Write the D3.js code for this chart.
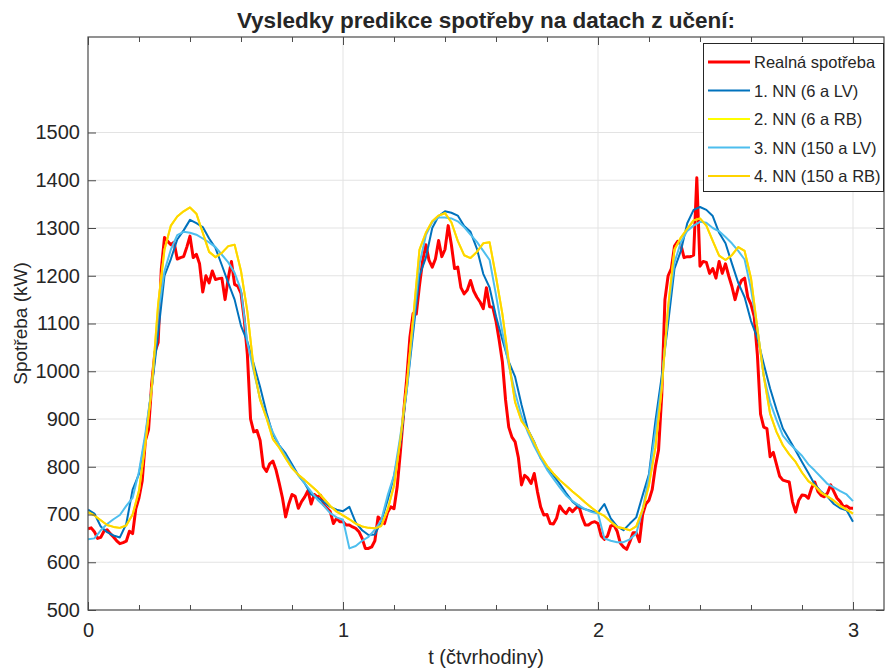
<!DOCTYPE html>
<html>
<head>
<meta charset="utf-8">
<script src="https://cdn.jsdelivr.net/npm/d3@7"></script>
<style>
  body { margin: 0; background: #fff; }
  svg { display: block; }
  text { font-family: "Liberation Sans", Arial, Helvetica, sans-serif; fill: #262626; }
</style>
</head>
<body>
<svg id="chart" width="885" height="671"></svg>
<script>
// Sampling steps along the time axis (in units of the x axis)
const stepReal = 0.0125;
const stepNN = 0.025;

// Measured consumption (kW)
const realna = [
  670,672,664,650,652,665,668,660,653,645,639,641,644,665,660,712,735,770,855,878,
  975,1040,1060,1214,1280,1272,1265,1270,1235,1238,1240,1260,1283,1238,1245,1225,1166,1200,1185,1210,
  1192,1194,1195,1150,1195,1230,1182,1178,1163,1110,1035,900,873,876,855,800,790,806,812,793,
  765,735,695,722,742,738,713,727,737,750,722,742,737,740,720,713,706,681,692,685,
  685,
  678,678,674,671,664,650,629,629,632,645,695,688,681,705,716,712,758,831,911,985,
  1072,1121,1120,1180,1232,1265,1232,1218,1235,1274,1240,1255,1305,1265,1215,1218,1175,1162,1170,1190,
  1168,1155,1145,1131,1175,1135,1134,1105,1065,1020,940,883,862,852,820,762,782,776,765,786,
  748,716,699,700,681,680,692,718,708,702,713,706,713,718,695,678,678,683,685,681,
  655,648,655,676,678,665,640,632,627,643,662,662,643,700,722,730,752,800,835,950,
  1150,1200,1215,1262,1272,1265,1238,1240,1240,1243,1405,1220,1230,1228,1205,1215,1195,1230,1205,1225,
  1200,1178,1150,1175,1190,1195,1155,1140,1115,1035,910,883,880,821,830,805,780,772,770,768,
  727,705,730,741,740,734,755,768,748,740,737,745,762,748,734,727,716,718,713,713
];

// 1. NN (6 a LV)
const nn1 = [
  710,702,675,663,656,652,680,752,785,862,965,1078,1200,1235,1276,1295,1317,1310,1302,1278,
  1258,1222,1185,1150,1095,1062,1015,967,913,868,845,828,805,782,765,742,735,726,716,710,
  707,
  716,683,667,657,658,685,730,780,850,960,1080,1200,1238,1300,1325,1335,1332,1326,1304,1292,
  1257,1204,1175,1115,1066,1020,988,930,878,852,818,800,782,764,745,727,716,711,707,704,
  722,692,675,667,681,694,740,785,895,990,1100,1215,1252,1310,1338,1344,1338,1325,1290,1268,
  1226,1185,1155,1105,1070,1015,964,920,880,857,834,810,787,763,748,737,722,713,709,685
];

// 2. NN (6 a RB)
const nn2 = [
  705,698,688,678,674,672,677,700,750,850,965,1140,1255,1305,1324,1335,1343,1330,1290,1250,
  1239,1248,1262,1265,1210,1125,1005,940,902,858,840,818,797,783,772,760,748,733,718,706,
  698,
  690,681,675,672,671,676,710,760,858,970,1110,1255,1290,1314,1326,1331,1312,1273,1243,1237,
  1250,1268,1270,1198,1120,1020,935,896,877,850,823,802,786,772,760,748,737,725,714,704,
  697,685,674,671,667,675,710,762,840,965,1135,1255,1280,1298,1316,1320,1305,1273,1242,1233,
  1243,1260,1252,1195,1090,990,911,873,845,826,810,788,770,760,746,738,729,718,710,702
];

// 3. NN (150 a LV)
const nn3 = [
  648,650,667,680,690,699,718,735,790,870,965,1120,1210,1255,1285,1292,1290,1286,1278,1270,
  1260,1244,1228,1206,1170,1060,1000,942,905,872,845,822,800,782,765,748,731,718,703,694,
  689,
  629,634,645,653,668,688,740,782,865,960,1095,1225,1285,1312,1322,1322,1320,1314,1302,1286,
  1271,1252,1233,1160,1082,1013,955,907,872,843,818,794,775,757,740,728,719,711,705,702,
  650,645,642,642,648,660,710,780,875,975,1127,1228,1270,1294,1305,1313,1311,1300,1293,1281,
  1268,1252,1234,1172,1090,990,935,898,865,849,836,823,805,792,778,764,757,749,742,728
];

// 4. NN (150 a RB)
const nn4 = [
  705,698,688,678,674,672,677,700,750,850,965,1140,1255,1305,1324,1335,1343,1330,1290,1250,
  1239,1248,1262,1265,1210,1125,1005,940,902,858,840,818,797,783,772,760,748,733,718,706,
  698,
  690,681,675,672,671,676,710,760,858,970,1110,1255,1290,1314,1326,1331,1312,1273,1243,1237,
  1250,1268,1270,1198,1120,1020,935,896,877,850,823,802,786,772,760,748,737,725,714,704,
  697,685,674,671,667,675,710,762,840,965,1135,1255,1280,1298,1316,1320,1305,1273,1242,1233,
  1243,1260,1252,1195,1090,990,911,873,845,826,810,788,770,760,746,738,729,718,710,702
];

const seriesNames = ["Realná spotřeba", "1. NN (6 a LV)", "2. NN (6 a RB)", "3. NN (150 a LV)", "4. NN (150 a RB)"];
const seriesColors = ["#ff0000", "#0072bd", "#ffff00", "#4dbeee", "#ffd400"];
const seriesWidths = [3, 2, 2, 2, 2];

const xMajorTicks = [0, 1, 2, 3];
const xMinorTicks = [0.2, 0.4, 0.6, 0.8, 1.2, 1.4, 1.6, 1.8, 2.2, 2.4, 2.6, 2.8];
const yTicks = [500, 600, 700, 800, 900, 1000, 1100, 1200, 1300, 1400, 1500];

const titleText = "Vysledky predikce spotřeby na datach z učení:";
const xLabel = "t (čtvrhodiny)";
const yLabel = "Spotřeba (kW)";

// ---- layout ----
const W = 885, H = 671;
const plot = { left: 88, top: 37, right: 884, bottom: 610 };

const svg = d3.select("#chart");

const x = d3.scaleLinear().domain([0, 3.1216]).range([plot.left, plot.right]);
const y = d3.scaleLinear().domain([500, 1700]).range([plot.bottom, plot.top]);

svg.append("rect").attr("width", W).attr("height", H).attr("fill", "#fff");

// grid
const grid = svg.append("g").attr("stroke", "#e3e3e3").attr("stroke-width", 1);
grid.selectAll("line.h").data(yTicks.filter(v => v > 500)).join("line")
  .attr("x1", plot.left).attr("x2", plot.right)
  .attr("y1", d => y(d)).attr("y2", d => y(d));
grid.selectAll("line.v").data(xMajorTicks.filter(v => v > 0)).join("line")
  .attr("y1", plot.top).attr("y2", plot.bottom)
  .attr("x1", d => x(d)).attr("x2", d => x(d));

// series
svg.append("clipPath").attr("id", "clip").append("rect")
  .attr("x", plot.left).attr("y", plot.top)
  .attr("width", plot.right - plot.left).attr("height", plot.bottom - plot.top);

const allSeries = [
  { values: realna, step: stepReal },
  { values: nn1, step: stepNN },
  { values: nn2, step: stepNN },
  { values: nn3, step: stepNN },
  { values: nn4, step: stepNN }
];

const line = d3.line().x(d => x(d[0])).y(d => y(d[1]));
const lines = svg.append("g").attr("clip-path", "url(#clip)");
allSeries.forEach((s, i) => {
  const pts = s.values.map((v, k) => [k * s.step, v]);
  lines.append("path").datum(pts)
    .attr("fill", "none")
    .attr("stroke", seriesColors[i])
    .attr("stroke-width", seriesWidths[i])
    .attr("stroke-linejoin", "round")
    .attr("d", line);
});

// axes (ticks pointing inward)
const axisColor = "#4a4a4a";
function styleAxis(g) {
  g.selectAll("path.domain").remove();
  g.selectAll(".tick line").attr("stroke", axisColor).attr("stroke-width", 1);
  g.selectAll(".tick text").attr("font-size", 20).attr("fill", "#262626")
    .attr("font-family", '"Liberation Sans", Arial, Helvetica, sans-serif');
}

svg.append("g").attr("transform", `translate(0,${plot.bottom})`)
  .call(d3.axisBottom(x).tickValues(xMajorTicks).tickFormat(d3.format("d"))
    .tickSizeInner(-8).tickSizeOuter(0).tickPadding(13))
  .call(styleAxis);
svg.append("g").attr("transform", `translate(0,${plot.bottom})`)
  .call(d3.axisBottom(x).tickValues(xMinorTicks).tickFormat("")
    .tickSizeInner(-5).tickSizeOuter(0))
  .call(styleAxis);
svg.append("g").attr("transform", `translate(0,${plot.top})`)
  .call(d3.axisTop(x).tickValues(xMajorTicks).tickFormat("")
    .tickSizeInner(-8).tickSizeOuter(0))
  .call(styleAxis);
svg.append("g").attr("transform", `translate(0,${plot.top})`)
  .call(d3.axisTop(x).tickValues(xMinorTicks).tickFormat("")
    .tickSizeInner(-5).tickSizeOuter(0))
  .call(styleAxis);
svg.append("g").attr("transform", `translate(${plot.left},0)`)
  .call(d3.axisLeft(y).tickValues(yTicks).tickFormat(d3.format("d"))
    .tickSizeInner(-8).tickSizeOuter(0).tickPadding(8))
  .call(styleAxis);
svg.append("g").attr("transform", `translate(${plot.right},0)`)
  .call(d3.axisRight(y).tickValues(yTicks).tickFormat("")
    .tickSizeInner(-8).tickSizeOuter(0))
  .call(styleAxis);

// box
svg.append("rect")
  .attr("x", plot.left).attr("y", plot.top)
  .attr("width", plot.right - plot.left).attr("height", plot.bottom - plot.top)
  .attr("fill", "none").attr("stroke", axisColor).attr("stroke-width", 1.2);

// title and axis labels
svg.append("text")
  .attr("x", (plot.left + plot.right) / 2).attr("y", 28)
  .attr("text-anchor", "middle").attr("font-size", 22.5).attr("font-weight", "bold")
  .attr("fill", "#000")
  .text(titleText);

svg.append("text")
  .attr("x", (plot.left + plot.right) / 2).attr("y", 664)
  .attr("text-anchor", "middle").attr("font-size", 20)
  .text(xLabel);

svg.append("text")
  .attr("transform", `translate(27,${(plot.top + plot.bottom) / 2}) rotate(-90)`)
  .attr("text-anchor", "middle").attr("font-size", 19)
  .text(yLabel);

// legend
const legend = svg.append("g");
legend.append("rect")
  .attr("x", 703.5).attr("y", 43.5).attr("width", 180).attr("height", 148)
  .attr("fill", "#fff").attr("stroke", "#262626").attr("stroke-width", 1);
const rowY = d3.scaleLinear().domain([0, 4]).range([62, 176]);
seriesNames.forEach((name, i) => {
  legend.append("line")
    .attr("x1", 708).attr("x2", 750)
    .attr("y1", rowY(i)).attr("y2", rowY(i))
    .attr("stroke", seriesColors[i]).attr("stroke-width", seriesWidths[i]);
  legend.append("text")
    .attr("x", 754).attr("y", rowY(i) + 6)
    .attr("font-size", 16.5).attr("fill", "#000")
    .text(name);
});
</script>
</body>
</html>
